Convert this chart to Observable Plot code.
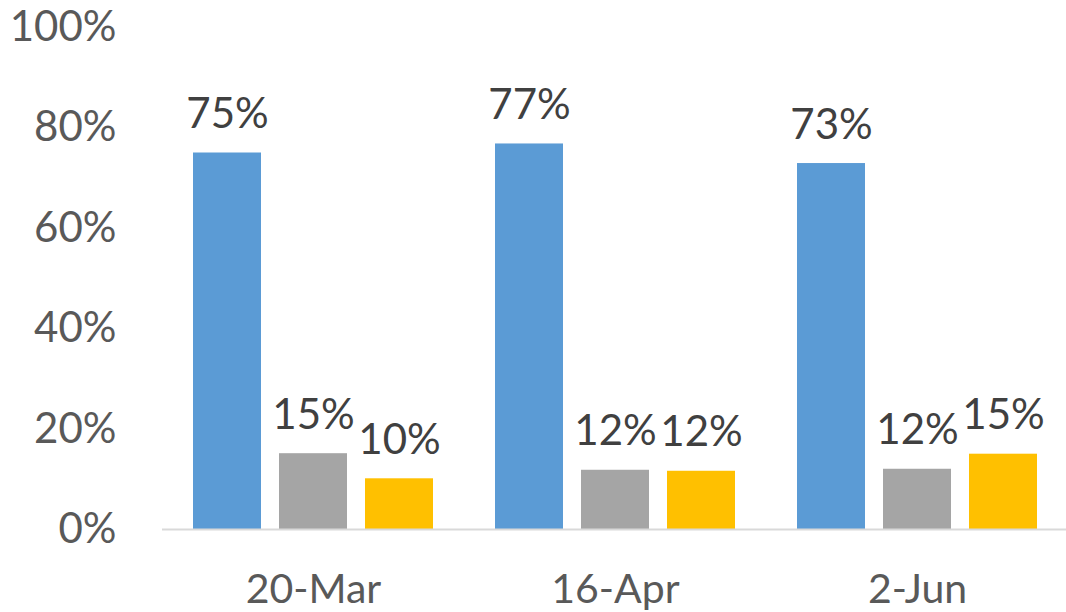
<!DOCTYPE html>
<html><head>
<meta charset="utf-8">
<script src="https://cdn.jsdelivr.net/npm/d3@7"></script>
<script src="https://cdn.jsdelivr.net/npm/@observablehq/plot@0.6"></script>
<style>body{margin:0;background:#fff;overflow:hidden}</style>
</head><body><div id="chart"></div>
<script>
const dates = ["20-Mar", "16-Apr", "2-Jun"];
const seriesNames = ["Series 1", "Series 2", "Series 3"];
const series1 = [0.750, 0.768, 0.729];
const series2 = [0.151, 0.118, 0.120];
const series3 = [0.101, 0.116, 0.150];
const seriesColors = ["#5B9BD5", "#A5A5A5", "#FFC000"];
const yTicks = [0, 0.2, 0.4, 0.6, 0.8, 1.0];

const allSeries = [series1, series2, series3];
const rows = dates.flatMap((d, i) => seriesNames.map((s, j) => ({date: d, series: s, value: allSeries[j][i]})));
const pct = v => Math.round(v * 100) + "%";

const chart = Plot.plot({
  width: 1066,
  height: 612,
  marginLeft: 161,
  marginRight: -3,
  marginTop: 27,
  marginBottom: 83,
  style: {fontFamily: "Lato, 'Open Sans', sans-serif", background: "#fff", color: "#595959", overflow: "visible"},
  fx: {domain: dates, padding: 0, label: null},
  x: {domain: seriesNames, paddingInner: 0.207, paddingOuter: 0.345, axis: null},
  y: {domain: [0, 1], label: null},
  color: {domain: seriesNames, range: seriesColors},
  marks: [
    Plot.barY(rows, {fx: "date", x: "series", y: "value", fill: "series"}),
    Plot.ruleY([0], {stroke: "#d9d9d9", strokeWidth: 2}),
    Plot.text(rows, {fx: "date", x: "series", y: "value", text: d => pct(d.value), lineAnchor: "bottom", dy: -25, fontSize: 42, fill: "#404040"}),
    Plot.axisY({ticks: yTicks, tickFormat: pct, tickSize: 0, tickPadding: 46, fontSize: 42, label: null}),
    Plot.axisFx({anchor: "bottom", tickSize: 0, tickPadding: 44, fontSize: 41, label: null})
  ]
});
document.getElementById("chart").appendChild(chart);
</script>
</body></html>
